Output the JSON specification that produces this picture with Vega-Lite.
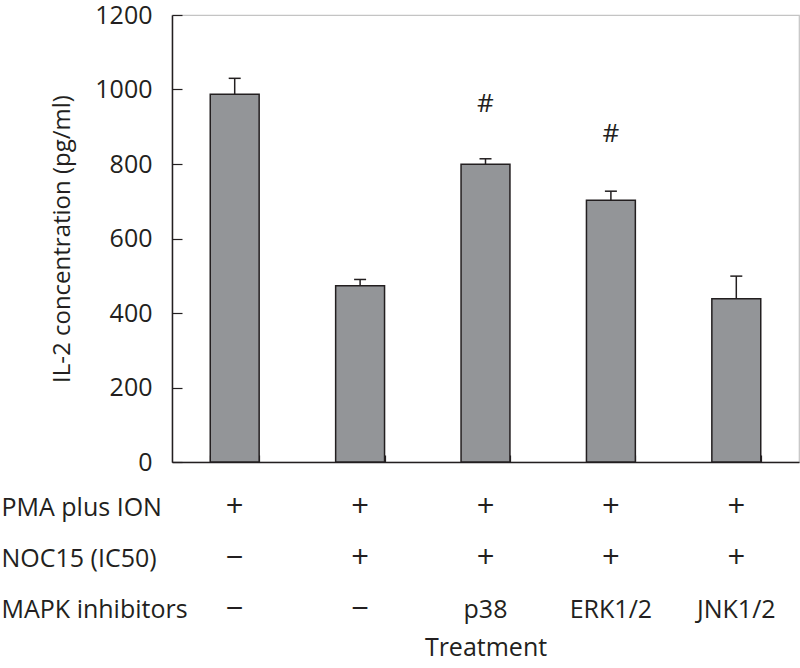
{
  "$schema": "https://vega.github.io/schema/vega-lite/v6.json",
  "padding": {"left": 1, "top": 2, "right": 0, "bottom": 3},
  "spacing": 6,
  "config": {
    "font": "Open Sans",
    "axis": {"labelFont": "Open Sans", "titleFont": "Open Sans", "labelColor": "#231f20", "titleColor": "#231f20", "titleFontWeight": "normal"},
    "text": {"font": "Open Sans", "color": "#231f20"}
  },
  "datasets": {
    "bars": [
      {"cat": "c1", "value": 987, "upper": 1030},
      {"cat": "c2", "value": 473, "upper": 490},
      {"cat": "c3", "value": 799, "upper": 814},
      {"cat": "c4", "value": 703, "upper": 727},
      {"cat": "c5", "value": 438, "upper": 499}
    ],
    "hash": [
      {"cat": "c3", "pos": 962, "mark": "#"},
      {"cat": "c4", "pos": 881, "mark": "#"}
    ],
    "table": [
      {"cat": "c1", "row": "PMA plus ION", "val": "+"},
      {"cat": "c2", "row": "PMA plus ION", "val": "+"},
      {"cat": "c3", "row": "PMA plus ION", "val": "+"},
      {"cat": "c4", "row": "PMA plus ION", "val": "+"},
      {"cat": "c5", "row": "PMA plus ION", "val": "+"},
      {"cat": "c1", "row": "NOC15 (IC50)", "val": "−"},
      {"cat": "c2", "row": "NOC15 (IC50)", "val": "+"},
      {"cat": "c3", "row": "NOC15 (IC50)", "val": "+"},
      {"cat": "c4", "row": "NOC15 (IC50)", "val": "+"},
      {"cat": "c5", "row": "NOC15 (IC50)", "val": "+"},
      {"cat": "c1", "row": "MAPK inhibitors", "val": "−"},
      {"cat": "c2", "row": "MAPK inhibitors", "val": "−"},
      {"cat": "c3", "row": "MAPK inhibitors", "val": "p38"},
      {"cat": "c4", "row": "MAPK inhibitors", "val": "ERK1/2"},
      {"cat": "c5", "row": "MAPK inhibitors", "val": "JNK1/2"}
    ]
  },
  "vconcat": [
    {
      "width": 627,
      "height": 447,
      "view": {"stroke": "#c4c4c4", "strokeWidth": 1.2},
      "layer": [
        {
          "data": {"name": "bars"},
          "mark": {"type": "bar", "fill": "#939598", "stroke": "#231f20", "strokeWidth": 1.5},
          "encoding": {
            "x": {
              "field": "cat", "type": "nominal",
              "scale": {"domain": ["c1", "c2", "c3", "c4", "c5"], "paddingInner": 0.61, "paddingOuter": 0.305},
              "axis": {"labels": false, "title": null, "tickBand": "extent", "tickSize": -7, "tickColor": "#231f20", "tickWidth": 1.2, "domainColor": "#231f20", "domainWidth": 1.5}
            },
            "y": {
              "field": "value", "type": "quantitative",
              "scale": {"domain": [0, 1200], "nice": false},
              "axis": {"values": [0, 200, 400, 600, 800, 1000, 1200], "format": "d", "title": "IL-2 concentration (pg/ml)", "grid": false, "tickSize": -10, "labelPadding": 30, "labelFontSize": 25, "titleFontSize": 24, "titlePadding": 20, "tickColor": "#231f20", "tickWidth": 1.2, "domainColor": "#231f20", "domainWidth": 1.5}
            }
          }
        },
        {
          "data": {"name": "bars"},
          "mark": {"type": "rule", "stroke": "#231f20", "strokeWidth": 1.5},
          "encoding": {
            "x": {"field": "cat", "type": "nominal"},
            "y": {"field": "value", "type": "quantitative"},
            "y2": {"field": "upper"}
          }
        },
        {
          "data": {"name": "bars"},
          "mark": {"type": "tick", "color": "#231f20", "size": 12, "thickness": 1.5, "opacity": 1},
          "encoding": {
            "x": {"field": "cat", "type": "nominal"},
            "y": {"field": "upper", "type": "quantitative"}
          }
        },
        {
          "data": {"name": "hash"},
          "mark": {"type": "text", "fontSize": 26, "baseline": "middle", "align": "center"},
          "encoding": {
            "x": {"field": "cat", "type": "nominal"},
            "y": {"field": "pos", "type": "quantitative"},
            "text": {"field": "mark"}
          }
        }
      ]
    },
    {
      "width": 627,
      "height": 153,
      "view": {"stroke": null},
      "data": {"name": "table"},
      "encoding": {
        "x": {
          "field": "cat", "type": "nominal",
          "scale": {"domain": ["c1", "c2", "c3", "c4", "c5"], "paddingInner": 0.61, "paddingOuter": 0.305},
          "axis": {"labels": false, "ticks": false, "tickSize": 0, "domain": false, "title": "Treatment", "titleFontSize": 25, "titlePadding": 0}
        },
        "y": {
          "field": "row", "type": "ordinal",
          "scale": {"type": "point", "padding": 0.5, "domain": ["PMA plus ION", "NOC15 (IC50)", "MAPK inhibitors"]},
          "axis": {"title": null, "ticks": false, "tickSize": 0, "domain": false, "labelAlign": "left", "labelPadding": 171, "labelFontSize": 25, "labelBaseline": "middle", "labelLimit": 0}
        },
        "text": {"field": "val"}
      },
      "layer": [
        {
          "transform": [{"filter": "datum.val === '+' || datum.val === '−'"}],
          "mark": {"type": "text", "fontSize": 31, "baseline": "middle", "align": "center"}
        },
        {
          "transform": [{"filter": "datum.val !== '+' && datum.val !== '−'"}],
          "mark": {"type": "text", "fontSize": 25, "baseline": "middle", "align": "center"}
        }
      ]
    }
  ]
}
